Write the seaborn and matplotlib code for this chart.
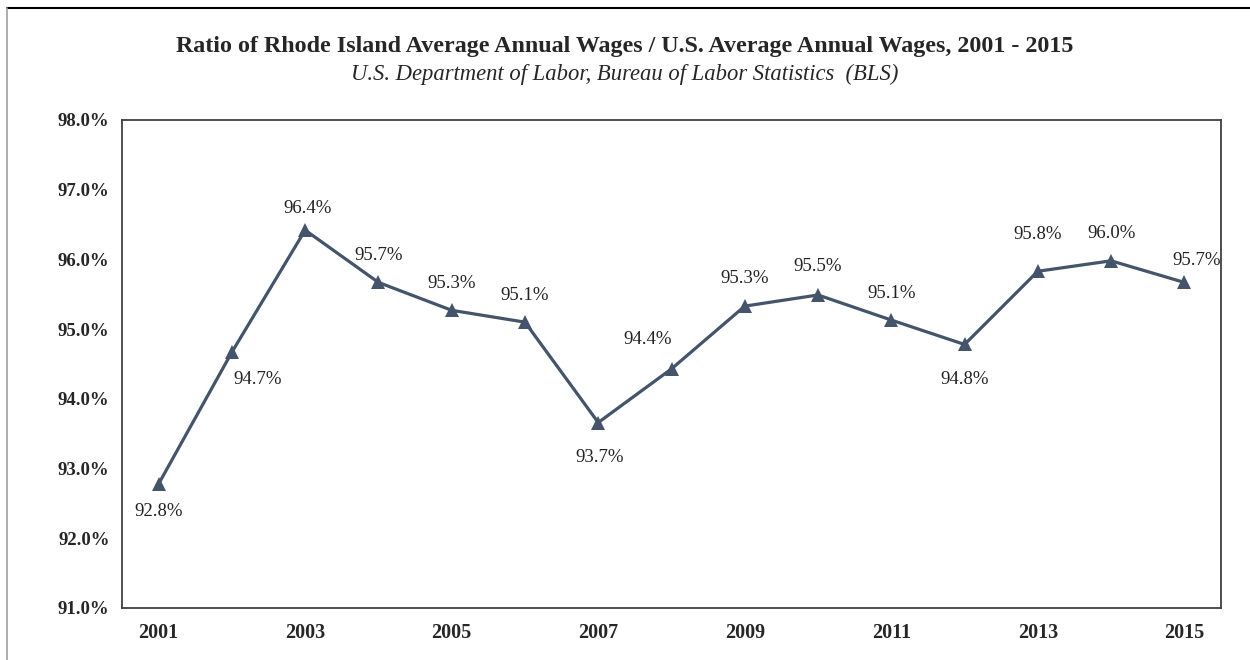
import numpy as np
import pandas as pd
import matplotlib
matplotlib.use("Agg")
import matplotlib.pyplot as plt
import seaborn as sns
from matplotlib.lines import Line2D

# dados
years = list(range(2001, 2016))
ratio = [92.78, 94.67, 96.42, 95.67, 95.27, 95.10, 93.66, 94.43,
         95.33, 95.49, 95.13, 94.78, 95.83, 95.98, 95.67]
year_labels = [str(y) if y % 2 == 1 else "" for y in years]
y_ticks = [91, 92, 93, 94, 95, 96, 97, 98]

title = "Ratio of Rhode Island Average Annual Wages / U.S. Average Annual Wages, 2001 - 2015"
subtitle = "U.S. Department of Labor, Bureau of Labor Statistics  (BLS)"

# posição dos rótulos (deslocamento em pixels)
label_offsets = [(0, -28), (26, -27), (2, 22), (0, 27), (0, 27), (0, 27),
                 (1, -35), (-24, 29), (0, 28), (0, 28), (0, 27), (0, -35),
                 (0, 37), (0, 27), (12, 22)]

sns.set_style("white")
plt.rcParams['font.family'] = ['Liberation Serif', 'DejaVu Serif']

df = pd.DataFrame({"pos": np.arange(len(years)), "ratio": ratio})
line_color = "#44546A"

fig = plt.figure(figsize=(12.5, 6.6), dpi=100)
ax = fig.add_axes([0.0976, 0.0788, 0.8792, 0.7394])

sns.lineplot(data=df, x="pos", y="ratio", ax=ax, color=line_color, linewidth=2.3,
             marker="^", markersize=10, markeredgecolor=line_color, markeredgewidth=0)

for i, v in enumerate(ratio):
    dx, dy = label_offsets[i]
    ax.annotate(f"{v:.1f}%", (i, v), xytext=(dx * 0.72, dy * 0.72), textcoords="offset points",
                ha="center", va="center", fontsize=13.5, color="#222222")

ax.set_xlim(-0.5, len(years) - 0.5)
ax.set_ylim(91, 98)
ax.set_yticks(y_ticks)
ax.set_yticklabels([f"{t:.1f}%" for t in y_ticks], fontsize=13.5, fontweight="bold")
ax.set_xticks(np.arange(-0.5, len(years)), minor=False)
ax.set_xticklabels([])
ax.set_xticks(np.arange(len(years)), minor=True)
ax.set_xticklabels(year_labels, minor=True, fontsize=14.5, fontweight="bold")
ax.tick_params(axis="x", which="major", length=5, width=1.2, color="#404040", direction="out")
ax.tick_params(axis="x", which="minor", length=0, pad=11)
ax.tick_params(axis="y", length=5, width=1.2, color="#404040", direction="out", pad=4)
ax.set_xlabel("")
ax.set_ylabel("")
for s in ax.spines.values():
    s.set_color("#404040")
    s.set_linewidth(1.3)
    s.set_visible(True)

fig.text(0.5, 0.929, title, ha="center", va="center", fontsize=17.3, fontweight="bold")
fig.text(0.5, 0.887, subtitle, ha="center", va="center", fontsize=16.3, style="italic")

# borda do quadro
fig.add_artist(Line2D([7 / 1250, 1], [1 - 8 / 660, 1 - 8 / 660], color="black", linewidth=1.5,
                      transform=fig.transFigure))
fig.add_artist(Line2D([7 / 1250, 7 / 1250], [0, 1 - 8 / 660], color="#a0a0a0", linewidth=1.2,
                      transform=fig.transFigure))

fig.savefig("out.png", dpi=100)
